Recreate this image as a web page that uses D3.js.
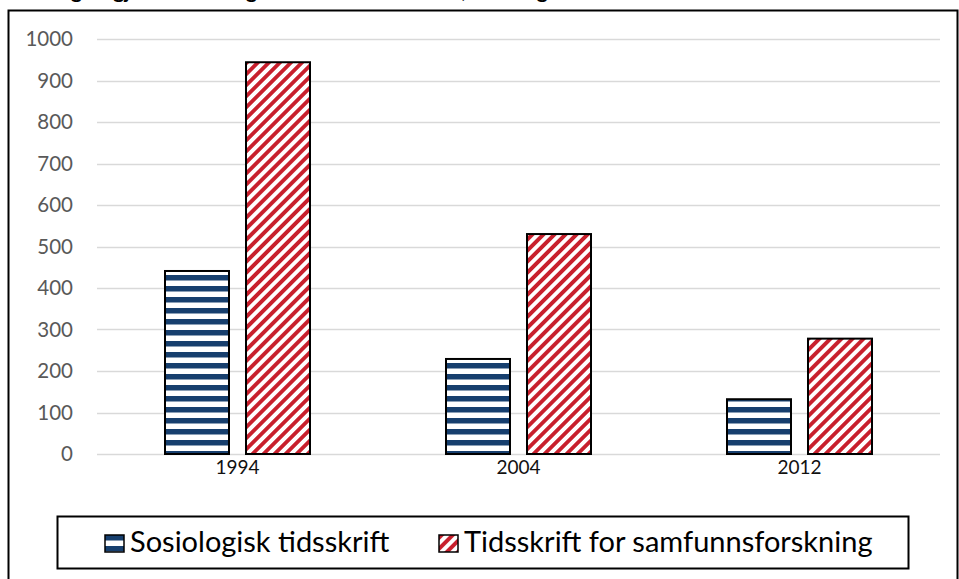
<!DOCTYPE html>
<html>
<head>
<meta charset="utf-8">
<script src="https://cdn.jsdelivr.net/npm/d3@7"></script>
<style>
  body { margin: 0; background: #fff; }
  svg { display: block; font-family: Lato, "Open Sans", sans-serif; }
</style>
</head>
<body>
<svg id="chart" width="959" height="579"></svg>
<script>
const years = ["1994", "2004", "2012"];
const series = ["Sosiologisk tidsskrift", "Tidsskrift for samfunnsforskning"];
const sosiologisk = [441, 229, 132];
const samfunnsforskning = [944, 530, 278];
const yTicks = [0, 100, 200, 300, 400, 500, 600, 700, 800, 900, 1000];
const title = "Sammenlikning av gjennomsnittlig sidetall i tidsskriftene, sosiologi";

const values = [sosiologisk, samfunnsforskning];
const rows = years.map((y, i) => ({ year: y, vals: series.map((s, j) => ({ key: s, j: j, v: values[j][i] })) }));

const svg = d3.select("#chart");

// patterns
const defs = svg.append("defs");
const pBlue = defs.append("pattern")
  .attr("id", "pat0").attr("patternUnits", "userSpaceOnUse")
  .attr("width", 11).attr("height", 11);
pBlue.append("rect").attr("width", 11).attr("height", 11).attr("fill", "#fff");
pBlue.append("rect").attr("y", 0).attr("width", 11).attr("height", 5.5).attr("fill", "#173f6e");

const pRed = defs.append("pattern")
  .attr("id", "pat1").attr("patternUnits", "userSpaceOnUse")
  .attr("width", 7.8).attr("height", 7.8)
  .attr("patternTransform", "rotate(45)");
pRed.append("rect").attr("width", 7.8).attr("height", 7.8).attr("fill", "#fff");
pRed.append("rect").attr("width", 3.9).attr("height", 7.8).attr("fill", "#c8202d");

// title (cut off at top of the picture)
svg.append("text")
  .attr("x", -60).attr("y", -2.5)
  .attr("font-weight", "bold").attr("font-size", 21).attr("fill", "#000")
  .text(title);

// outer frame
svg.append("rect")
  .attr("x", 8.5).attr("y", 10.5).attr("width", 949).attr("height", 600)
  .attr("fill", "none").attr("stroke", "#000").attr("stroke-width", 2);

const x0 = d3.scaleBand().domain(years).range([97, 940]);
const x1 = d3.scaleBand().domain(series).range([68, 213]).paddingInner(0.21);
const y = d3.scaleLinear().domain([0, 1000]).range([454, 39]);

// gridlines
svg.append("g")
  .selectAll("line").data(yTicks).join("line")
  .attr("x1", 97).attr("x2", 940)
  .attr("y1", d => Math.round(y(d)) + 0.5).attr("y2", d => Math.round(y(d)) + 0.5)
  .attr("stroke", "#d9d9d9").attr("stroke-width", 1.3);

// y axis
const yAxis = svg.append("g")
  .attr("transform", "translate(73,0)")
  .call(d3.axisLeft(y).tickValues(yTicks).tickFormat(d3.format("d")).tickSize(0).tickPadding(0));
yAxis.select(".domain").remove();
yAxis.selectAll("text")
  .attr("font-family", "Lato, sans-serif").attr("font-size", 20.5).attr("fill", "#595959");

// x axis
const xAxis = svg.append("g")
  .attr("transform", "translate(0,454)")
  .call(d3.axisBottom(x0).tickSize(0).tickPadding(7));
xAxis.select(".domain").remove();
xAxis.selectAll("text")
  .attr("font-family", "Lato, sans-serif").attr("font-size", 19).attr("fill", "#111");

// bars
svg.append("g")
  .selectAll("g").data(rows).join("g")
  .attr("transform", d => `translate(${x0(d.year)},0)`)
  .selectAll("rect").data(d => d.vals).join("rect")
  .attr("x", d => x1(d.key))
  .attr("y", d => y(d.v))
  .attr("width", x1.bandwidth())
  .attr("height", d => y(0) - y(d.v))
  .attr("fill", d => `url(#pat${d.j})`)
  .attr("stroke", "#000").attr("stroke-width", 2);

// legend
svg.append("rect")
  .attr("x", 57.5).attr("y", 516.5).attr("width", 851).attr("height", 52)
  .attr("fill", "none").attr("stroke", "#000").attr("stroke-width", 2);

const legendX = [105, 439];
const leg = svg.append("g").selectAll("g").data(series).join("g")
  .attr("transform", (d, i) => `translate(${legendX[i]},535)`);
leg.append("rect")
  .attr("width", 19).attr("height", 17)
  .attr("fill", (d, i) => `url(#pat${i})`)
  .attr("stroke", "#000").attr("stroke-width", 1.5);
leg.append("text")
  .attr("x", 25).attr("y", 17)
  .attr("font-size", 29).attr("fill", "#000")
  .text(d => d);
</script>
</body>
</html>
